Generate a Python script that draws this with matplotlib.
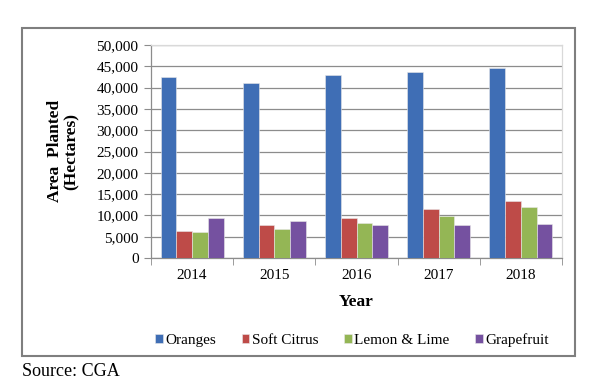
import matplotlib
matplotlib.use("Agg")
import matplotlib.pyplot as plt
import numpy as np
from matplotlib.patches import Rectangle
from matplotlib.ticker import FuncFormatter, MultipleLocator

years = ["2014", "2015", "2016", "2017", "2018"]
series_names = ["Oranges", "Soft Citrus", "Lemon & Lime", "Grapefruit"]
oranges = [42500, 41100, 43000, 43700, 44500]
soft_citrus = [6300, 7800, 9300, 11500, 13300]
lemon_lime = [6000, 6700, 8300, 9900, 11900]
grapefruit = [9500, 8800, 7800, 7800, 7900]
colors = ["#3F6EB5", "#BE4B48", "#94B655", "#7551A0"]

plt.rcParams["font.family"] = ["Liberation Serif", "DejaVu Serif"]

W, H = 595, 392
fig = plt.figure(figsize=(W / 100, H / 100), dpi=100)
ax = fig.add_axes([151 / W, 1 - 258 / H, (562 - 151) / W, (258 - 45) / H])

data = [oranges, soft_citrus, lemon_lime, grapefruit]
x = np.arange(len(years))
bw = 0.191
for i, (vals, name, c) in enumerate(zip(data, series_names, colors)):
    ax.bar(x + (i - 1.5) * bw, vals, bw, color=c, label=name,
           edgecolor="#e8e8e8", linewidth=0.4, zorder=3)

ax.set_xlim(-0.5, len(years) - 0.5)
ax.set_ylim(0, 50000)
ax.yaxis.set_major_locator(MultipleLocator(5000))
ax.yaxis.set_major_formatter(FuncFormatter(lambda v, p: f"{int(v):,}"))
ax.grid(axis="y", color="#8c8c8c", linewidth=0.9, zorder=0)
ax.set_axisbelow(True)

ax.set_xticks(x)
ax.set_xticklabels(years, fontsize=11)
ax.set_xticks(np.arange(-0.5, len(years)), minor=True)
ax.tick_params(axis="x", which="major", length=0, pad=8)
ax.tick_params(axis="x", which="minor", length=5, color="#8c8c8c", direction="out")
ax.tick_params(axis="y", labelsize=11, length=5, color="#8c8c8c", pad=4)

for s in ["left", "bottom"]:
    ax.spines[s].set_color("#8c8c8c")
    ax.spines[s].set_linewidth(0.9)
for s in ["top", "right"]:
    ax.spines[s].set_color("#d9d9d9")
    ax.spines[s].set_linewidth(0.9)

fig.text(356 / W, 1 - 302 / H, "Year", ha="center", va="center",
         fontsize=12.5, fontweight="bold")
fig.text(63 / W, 1 - 151 / H, "Area  Planted\n(Hectares)", ha="center", va="center",
         rotation=90, fontsize=12.5, fontweight="bold", linespacing=1.05,
         multialignment="center")

leg = fig.legend(loc="center", bbox_to_anchor=(352 / W, 1 - 340 / H), ncol=4,
                 frameon=False, fontsize=11, handlelength=0.5, handleheight=0.5,
                 handletextpad=0.15, columnspacing=1.7, borderpad=0.2)

fig.patches.append(Rectangle((22 / W, 1 - 356 / H), (575 - 22) / W, (356 - 28) / H,
                             transform=fig.transFigure, fill=False,
                             edgecolor="#7f7f7f", linewidth=1.5))

fig.text(22 / W, 1 - 372 / H, "Source: CGA", ha="left", va="center", fontsize=13)

fig.savefig("out.png", dpi=100)
